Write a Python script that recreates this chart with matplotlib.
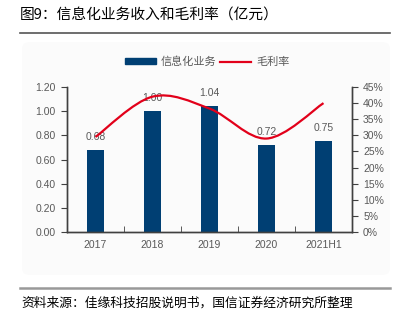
import numpy as np
import matplotlib
matplotlib.use("Agg")
import matplotlib.pyplot as plt
from matplotlib.path import Path
from matplotlib.patches import PathPatch, Rectangle, FancyBboxPatch
from matplotlib.lines import Line2D
from matplotlib.ticker import FixedLocator, PercentFormatter

plt.rcParams["font.family"] = ["Noto Sans CJK SC", "DejaVu Sans"]

# ── Data ──
years = ["2017", "2018", "2019", "2020", "2021H1"]
revenue = [0.68, 1.00, 1.04, 0.72, 0.75]          # 亿元
margin = [29.5, 42.0, 38.3, 29.0, 40.0]            # %

title = "图9：信息化业务收入和毛利率（亿元）"
source = "资料来源：佳缘科技招股说明书，国信证券经济研究所整理"

BAR_COLOR = "#003f73"
LINE_COLOR = "#e2001a"
TXT = "#595959"
SPINE = "#404040"
NUM_FONT = "Liberation Sans"

W, H = 405, 334
fig = plt.figure(figsize=(W / 100, H / 100), dpi=100)

# faint background panel behind the chart
fig.patches.append(FancyBboxPatch((22 / W, 1 - 275 / H), 368 / W, 233 / H,
                                  boxstyle="round,pad=0,rounding_size=0.02",
                                  transform=fig.transFigure, facecolor="#fbfbfb",
                                  edgecolor="none", zorder=-1))

ax = fig.add_axes([67 / W, 1 - 232 / H, 285 / W, 145 / H])
ax.set_facecolor("none")
ax2 = ax.twinx()

x = np.arange(len(years))
ax.bar(x, revenue, width=0.3, color=BAR_COLOR, zorder=2)
for xi, v in zip(x, revenue):
    ax.annotate(f"{v:.2f}", (xi, v), xytext=(0, 6), textcoords="offset points",
                ha="center", va="bottom", fontsize=7.5, color=TXT,
                family=NUM_FONT, zorder=1)

ax.set_xlim(-0.5, len(years) - 0.5)
ax.set_ylim(0, 1.2)
ax.set_yticks(np.arange(0, 1.21, 0.2))
ax.set_yticklabels([f"{t:.2f}" for t in np.arange(0, 1.21, 0.2)],
                   fontsize=7.5, color=TXT, family=NUM_FONT)
ax.set_xticks(x)
ax.set_xticklabels(years, fontsize=7.5, color=TXT, family=NUM_FONT)
ax.tick_params(axis="x", length=0, pad=6)
ax.xaxis.set_minor_locator(FixedLocator(x[:-1] + 0.5))
ax.tick_params(axis="x", which="minor", direction="in", length=4, color=SPINE)
ax.tick_params(axis="y", direction="out", length=4, color=SPINE, pad=4)

# smooth margin line (Catmull-Rom as cubic Bezier)
pts = np.column_stack([x, np.array(margin) / 100])
ext = np.vstack([pts[0], pts, pts[-1]])
verts = [tuple(pts[0])]
codes = [Path.MOVETO]
for i in range(len(pts) - 1):
    p0, p1, p2, p3 = ext[i], ext[i + 1], ext[i + 2], ext[i + 3]
    c1 = p1 + (p2 - p0) / 6
    c2 = p2 - (p3 - p1) / 6
    verts += [tuple(c1), tuple(c2), tuple(p2)]
    codes += [Path.CURVE4] * 3
ax2.add_patch(PathPatch(Path(verts, codes), facecolor="none",
                        edgecolor=LINE_COLOR, lw=1.6, zorder=3))

ax2.set_ylim(0, 0.45)
ax2.set_yticks(np.arange(0, 0.451, 0.05))
ax2.yaxis.set_major_formatter(PercentFormatter(1.0, decimals=0))
ax2.tick_params(axis="y", direction="out", length=4, color=SPINE,
                labelsize=7.5, labelcolor=TXT, pad=4)
for lbl in ax2.get_yticklabels():
    lbl.set_family(NUM_FONT)

for a in (ax, ax2):
    a.spines["top"].set_visible(False)
    for s in ("left", "right", "bottom"):
        a.spines[s].set_color(SPINE)
        a.spines[s].set_linewidth(1.0)

# legend
handles = [Rectangle((0, 0), 1, 1, color=BAR_COLOR),
           Line2D([], [], color=LINE_COLOR, lw=1.6)]
fig.legend(handles, ["信息化业务", "毛利率"], loc="center",
           bbox_to_anchor=(207 / W, 1 - 62 / H), ncol=2, frameon=False,
           fontsize=8, labelcolor=TXT, handlelength=2.8, handleheight=0.45,
           handletextpad=0.4, columnspacing=0.4)

# title, rules, source
fig.text(20 / W, 1 - 16 / H, title, fontsize=10.6, color="black", va="center")
fig.add_artist(Line2D([20 / W, 390 / W], [1 - 33 / H] * 2, color="#555555", lw=1.2))
fig.add_artist(Line2D([20 / W, 390 / W], [1 - 288 / H] * 2, color="#999999", lw=1.8))
fig.text(21 / W, 1 - 303 / H, source, fontsize=9.2, color="black", va="center")

fig.savefig("out.png", dpi=100)
